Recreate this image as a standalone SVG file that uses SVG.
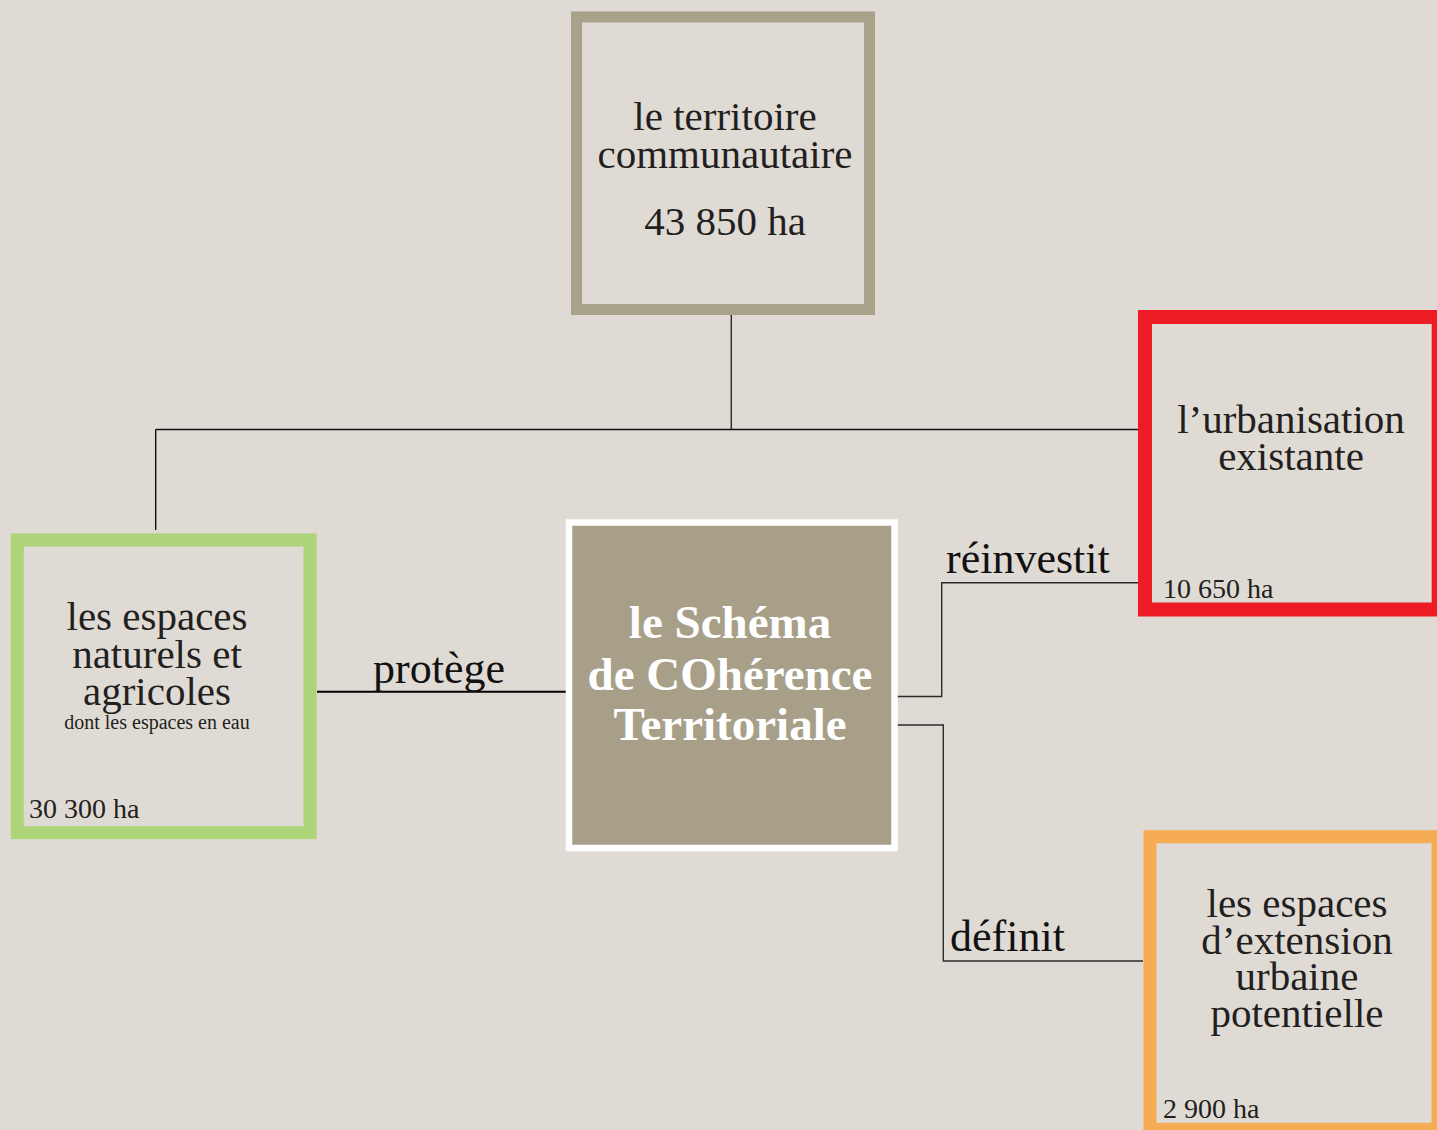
<svg xmlns="http://www.w3.org/2000/svg" width="1437" height="1130" viewBox="0 0 1437 1130">
<style>
.bg{fill:#DFDBD4}
.box{fill:#DFDBD4}
.t{font-family:"Liberation Serif","Times New Roman",serif;fill:#231F20;text-anchor:middle}
.big{font-size:41px}
.ha{font-size:28px;text-anchor:start}
.lbl{font-family:"Liberation Serif","Times New Roman",serif;fill:#111;font-size:44px}
.c{fill:none;stroke:#2b2b2b;stroke-width:1.4}
.ctr{font-family:"Liberation Serif","Times New Roman",serif;font-weight:bold;font-size:47px;fill:#fff;text-anchor:middle}
</style>
<rect class="bg" x="0" y="0" width="1437" height="1130"/>
<g id="connectors">
<path class="c" d="M731.3 315V429.5"/>
<path class="c" d="M155.7 429.5H1138M155.7 429.5V530" style="stroke:#111"/>
<path class="c" d="M317 691.7H566" style="stroke:#000;stroke-width:2"/>
<path class="c" d="M897 696.5H941.7V582.7H1138"/>
<path class="c" d="M897 725H943.3V961H1143"/>
<text class="lbl" x="373" y="683">protège</text>
<text class="lbl" x="946" y="573">réinvestit</text>
<text class="lbl" x="950" y="951">définit</text>
</g>
<g id="territoire">
<rect class="box" x="576.5" y="17" width="293" height="292.5" stroke="#A9A28B" stroke-width="11"/>
<text class="t big" x="725" y="130">le territoire<tspan x="725" dy="38">communautaire</tspan></text>
<text class="t big" x="725" y="235">43 850 ha</text>
</g>
<g id="urbanisation">
<rect class="box" x="1145" y="317" width="293.7" height="292.5" stroke="#ED1C24" stroke-width="14"/>
<text class="t big" x="1291" y="433">l’urbanisation<tspan x="1291" dy="37">existante</tspan></text>
<text class="t ha" x="1163" y="598">10 650 ha</text>
</g>
<g id="naturels">
<rect class="box" x="17.3" y="540" width="292.7" height="292.6" stroke="#AED47A" stroke-width="13"/>
<text class="t big" x="157" y="630">les espaces<tspan x="157" dy="37.5">naturels et</tspan><tspan x="157" dy="37.5">agricoles</tspan><tspan x="157" dy="24" style="font-size:20px">dont les espaces en eau</tspan></text>
<text class="t ha" x="29" y="818">30 300 ha</text>
</g>
<g id="scot">
<rect x="569" y="522.5" width="325.5" height="325.5" fill="#A89F89" stroke="#FFFFFF" stroke-width="6.5"/>
<text class="ctr" x="730" y="638">le Schéma<tspan x="730" dy="52">de COhérence</tspan><tspan x="730" dy="50">Territoriale</tspan></text>
</g>
<g id="extension">
<rect class="box" x="1150" y="836.7" width="288" height="292.6" stroke="#F5AC52" stroke-width="13"/>
<text class="t big" x="1297" y="917">les espaces<tspan x="1297" dy="36.5">d’extension</tspan><tspan x="1297" dy="36.5">urbaine</tspan><tspan x="1297" dy="37">potentielle</tspan></text>
<text class="t ha" x="1163" y="1118">2 900 ha</text>
</g>
</svg>
